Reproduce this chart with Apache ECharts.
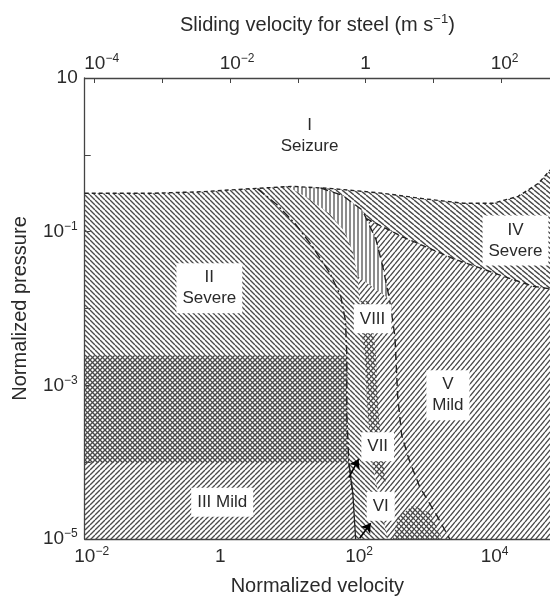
<!DOCTYPE html>
<html><head><meta charset="utf-8">
<script src="https://cdn.jsdelivr.net/npm/echarts@6/dist/echarts.min.js"></script>
<style>html,body{margin:0;padding:0;background:#fff}#c{width:550px;height:603px}</style>
</head><body><div id="c"></div>
<script>
// All coordinates are log10 exponents: x = log10(normalized velocity), y = log10(normalized pressure)
const xNormRange = [-2, 4.87];
const steelOffset = 2.147;            // log10(normalized velocity) - log10(steel velocity, m/s)
const xNormLabels = [-2, 0, 2, 4];
const xSteelTicks = [-4, -3, -2, -1, 0, 1, 2];
const xSteelLabels = [-4, -2, 0, 2];
const yRange = [-5, 1];
const yTicks = [-5, -4, -3, -2, -1, 0, 1];
const yLabels = [1, -1, -3, -5];

// boundaries
const topLine = [[-2,-0.50],[-1.0,-0.50],[-0.27,-0.48],[0.47,-0.44],[1.07,-0.41],[1.66,-0.44],[2.4,-0.50],[2.99,-0.57],[3.59,-0.63],[4.03,-0.63],[4.4,-0.54],[4.7,-0.37],[4.92,-0.15]];
const curveA = [[0.55,-0.44],[0.84,-0.65],[1.11,-0.90],[1.36,-1.19],[1.62,-1.54],[1.78,-1.84],[1.85,-2.16],[1.87,-2.61],[1.87,-3.39],[1.90,-4.01],[1.96,-4.42],[2.0,-5]];
const curveM = [[0.99,-0.41],[1.29,-0.56],[1.62,-0.77],[1.84,-1.0],[1.96,-1.26],[2.03,-1.58],[2.07,-2.10],[2.13,-2.61],[2.18,-3.39],[2.25,-4.03],[2.37,-4.55],[2.47,-5]];
const curveB = [[1.48,-0.43],[1.81,-0.53],[2.10,-0.72],[2.30,-1.10],[2.40,-1.45],[2.50,-1.88],[2.58,-2.36],[2.62,-3.13],[2.68,-3.65],[2.79,-3.97],[2.95,-4.33],[3.19,-4.68],[3.39,-5]];
const ivLine = [[2.16,-0.83],[2.70,-1.07],[3.44,-1.35],[4.18,-1.58],[4.62,-1.71],[4.92,-1.75]];
const mildIIITop = -2.61;     // top of regime III (mild) band
const severeIIBottom = -4.01; // bottom of regime II hatch
const crossVIII = [[2.05,-1.9],[2.07,-2.2],[2.13,-2.61],[2.18,-3.39],[2.26,-4.1],[2.45,-4.3],[2.40,-3.9],[2.34,-3.39],[2.30,-2.61],[2.25,-2.2],[2.20,-1.9]];
const crossVI = [[2.55,-5],[2.62,-4.72],[2.85,-4.56],[3.1,-4.66],[3.28,-5]];
const arrows = [[[1.90,-4.20],[2.044,-3.961]],[[2.06,-4.99],[2.222,-4.794]]];
const regionLabels = [
  [1.32, 0.25, 'I\nSeizure', false],
  [-0.16, -1.735, 'II\nSevere', true],
  [0.03, -4.523, 'III Mild', true],
  [4.36, -1.116, 'IV\nSevere', true],
  [3.363, -3.129, 'V\nMild', true],
  [2.25, -2.135, 'VIII', true],
  [2.326, -3.80, 'VII', true],
  [2.37, -4.574, 'VI', true]
];

// region polygons assembled from boundaries
const regionII = [[-2, severeIIBottom]].concat(topLine.slice(0,4), curveA.slice(0,10));
const regionIII = [[-2, mildIIITop],[1.87, mildIIITop]].concat(curveA.slice(8), [[-2,-5]]);
const regionM1 = curveA.concat(curveM.slice().reverse());
const regionM2up = curveM.slice(0,6).concat(curveB.slice(0,6).reverse());
const regionM2low = curveM.slice(5).concat(curveB.slice(5).reverse());
const regionIV = [curveB[0]].concat(topLine.slice(5), ivLine.slice().reverse(), curveB.slice(0,3).reverse());
const regionV = ivLine.concat([[4.92,-5]], curveB.slice(3).reverse());

function hatch(w, h, dir, lw, color) {
  const c = document.createElement('canvas'); c.width = w; c.height = h;
  const g = c.getContext('2d'); g.strokeStyle = color; g.lineWidth = lw; g.beginPath();
  for (let k = -1; k <= 1; k++) {
    if (dir === '\\') { g.moveTo(k*w, 0); g.lineTo(k*w + w, h); }
    else if (dir === '/') { g.moveTo(k*w, h); g.lineTo(k*w + w, 0); }
    else { g.moveTo(w/2 + k*w, 0); g.lineTo(w/2 + k*w, h); }
  }
  g.stroke();
  return { image: c, repeat: 'repeat' };
}
const HC = '#4a4a4a';
const patBack = hatch(5, 5, '\\', 1.35, HC);
const patBackFlat = hatch(6, 5, '\\', 1.35, HC);
const patFwd = hatch(5, 5, '/', 1.35, HC);
const patFwdSteep = hatch(5, 6, '/', 1.35, HC);
const patVert = hatch(4, 4, '|', 1.25, HC);

function polySeries(pts, pattern) {
  return { type: 'custom', silent: true, clip: true, z: 1, data: [pts[0]],
    renderItem: (params, api) => ({ type: 'polygon',
      shape: { points: pts.map(p => api.coord(p)) },
      style: { fill: pattern, stroke: 'none' } }) };
}
function lineSeries(pts, type, width) {
  return { type: 'line', data: pts, showSymbol: false, silent: true, z: 3,
    lineStyle: { color: '#222', width: width || 1.4, type: type } };
}

const FONT = 'Liberation Sans';
const TXT = '#2a2a2a';
const supStyle = { fontSize: 12, fontFamily: FONT, color: TXT, verticalAlign: 'top', lineHeight: 22 };
const xRich = { sup: supStyle, padL: { width: 14, lineHeight: 22 }, padS: { width: 7, lineHeight: 22 } };
function xFmt(v) {
  const e = Math.round(v);
  if (e === 0) return '1';
  if (e < 0) return '{padL|}10{sup|\u2212' + (-e) + '}';
  return '{padS|}10{sup|' + e + '}';
}
function yFmt(v) {
  const e = Math.round(v);
  if (e === 0) return '1';
  if (e === 1) return '10';
  return '10{sup|' + (e < 0 ? '\u2212' : '') + Math.abs(e) + '}';
}
const xLabel = { fontSize: 19, fontFamily: FONT, color: TXT, lineHeight: 22, rich: xRich, formatter: xFmt };
const yLabel = { fontSize: 19, fontFamily: FONT, color: TXT, lineHeight: 22, rich: { sup: supStyle }, formatter: yFmt };
const axisLine = { show: true, onZero: false, lineStyle: { color: '#444', width: 1.3 } };
const nameStyle = { fontSize: 20, fontFamily: FONT, color: TXT, lineHeight: 24,
  rich: { sup: { fontSize: 13, fontFamily: FONT, color: TXT, verticalAlign: 'top', lineHeight: 24 } } };

const chart = echarts.init(document.getElementById('c'), null, { renderer: 'canvas' });
chart.setOption({
  animation: false,
  backgroundColor: '#fff',
  grid: { left: 83, right: 0, top: 78, bottom: 58 },
  xAxis: [
    { type: 'value', position: 'bottom', min: xNormRange[0], max: xNormRange[1],
      axisLine: axisLine, axisTick: { show: false }, splitLine: { show: false },
      axisLabel: Object.assign({ customValues: xNormLabels, margin: 7 }, xLabel),
      name: 'Normalized velocity', nameLocation: 'middle', nameGap: 35, nameTextStyle: nameStyle },
    { type: 'value', position: 'top', min: xNormRange[0] - steelOffset, max: xNormRange[1] - steelOffset,
      axisLine: axisLine, splitLine: { show: false },
      axisTick: { show: true, inside: true, length: 5, customValues: xSteelTicks, lineStyle: { color: '#444' } },
      axisLabel: Object.assign({ customValues: xSteelLabels, margin: 3 }, xLabel),
      name: 'Sliding velocity for steel (m s{sup|\u22121})', nameLocation: 'middle', nameGap: 41, nameTextStyle: nameStyle }
  ],
  yAxis: { type: 'value', min: yRange[0], max: yRange[1],
    axisLine: axisLine, splitLine: { show: false },
    axisTick: { show: true, inside: true, length: 6, customValues: yTicks, lineStyle: { color: '#444' } },
    axisLabel: Object.assign({ customValues: yLabels, margin: 7 }, yLabel),
    name: 'Normalized pressure', nameLocation: 'middle', nameGap: 48, nameRotate: 90, nameTextStyle: nameStyle },
  series: [
    polySeries(regionII, patBack),
    polySeries(regionIII, patFwd),
    polySeries(regionM1, patBack),
    polySeries(regionM2up, patVert),
    polySeries(regionM2low, patFwdSteep),
    polySeries(regionIV, patBackFlat),
    polySeries(regionV, patFwdSteep),
    polySeries(crossVIII, patBack),
    polySeries(crossVI, patBack),
    lineSeries(topLine, [4, 3]),
    lineSeries(curveA.slice(0, 11), [9, 3, 2, 3]),
    lineSeries(curveA.slice(9), 'solid', 1.3),
    lineSeries(curveB, [8, 5]),
    lineSeries(ivLine, [6, 4]),
    { type: 'lines', coordinateSystem: 'cartesian2d', silent: true, z: 4,
      symbol: ['none', 'arrow'], symbolSize: [0, 9],
      lineStyle: { color: '#000', width: 1.6, opacity: 1 },
      data: arrows.map(a => ({ coords: a })) },
    { type: 'scatter', symbolSize: 0, silent: true, z: 5,
      itemStyle: { opacity: 1 },
      data: regionLabels.map(r => ({ value: [r[0], r[1]], name: r[2],
        label: { backgroundColor: r[3] ? '#fff' : 'transparent' } })),
      label: { show: true, position: 'inside', formatter: '{b}', fontSize: 17, fontFamily: FONT,
        color: TXT, opacity: 1, lineHeight: 21, padding: [4, 6], align: 'center' } }
  ]
});
</script></body></html>
